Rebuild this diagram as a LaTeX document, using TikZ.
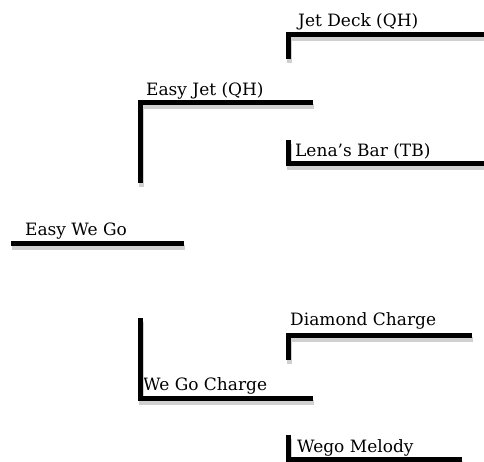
\documentclass[tikz,border=0pt]{standalone}
\usepackage{fontspec}
\usepackage{tikz}
\usetikzlibrary{positioning}
\newfontfamily\horsefont{DejaVu Serif}
\definecolor{shadowgray}{RGB}{208,208,208}

\begin{document}
\begin{tikzpicture}[x=1pt,y=-1pt,
  bar/.style={line width=5pt,black,line join=miter},
  barshadow/.style={line width=5pt,shadowgray,line join=miter},
  horse/.style={anchor=base west,inner sep=0pt,font=\horsefont\fontsize{17}{20}\selectfont}
]
\useasboundingbox (0,0) rectangle (484,461);

% names
\node[horse] (ewg) at (25,235) {Easy We Go};
\node[horse] (ej) at (146,95) {Easy Jet (QH)};
\node[horse] (jd) at (298,26) {Jet Deck (QH)};
\node[horse] (lb) at (295,156) {Lena’s Bar (TB)};
\node[horse] (wgc) at (143,390) {We Go Charge};
\node[horse] (dc) at (290,325) {Diamond Charge};
\node[horse] (wm) at (297,452) {Wego Melody};

% line ends
\coordinate (ewg-l) at (11,243);  \coordinate (ewg-r) at (184,243);
\coordinate (ej-v) at (140.8,182.5); \coordinate (ej-r) at (313,102);
\coordinate (jd-v) at (288.5,58.5); \coordinate (jd-r) at (486,34.5);
\coordinate (lb-v) at (288.5,140);  \coordinate (lb-r) at (486,163);
\coordinate (wgc-v) at (140.8,318); \coordinate (wgc-r) at (313,398);
\coordinate (dc-v) at (288.5,360);  \coordinate (dc-r) at (472,335);
\coordinate (wm-v) at (288.5,435);  \coordinate (wm-r) at (462,459);

% shadows first, then the bars
\foreach \a/\b in {ewg-l/ewg-r,ej-v/ej-r,jd-v/jd-r,lb-v/lb-r,wgc-v/wgc-r,dc-v/dc-r,wm-v/wm-r}
  \draw[barshadow] ([xshift=1pt,yshift=-4pt]\a) |- ([xshift=1pt,yshift=-4pt]\b);
\foreach \a/\b in {ewg-l/ewg-r,ej-v/ej-r,jd-v/jd-r,lb-v/lb-r,wgc-v/wgc-r,dc-v/dc-r,wm-v/wm-r}
  \draw[bar] (\a) |- (\b);
\end{tikzpicture}
\end{document}
